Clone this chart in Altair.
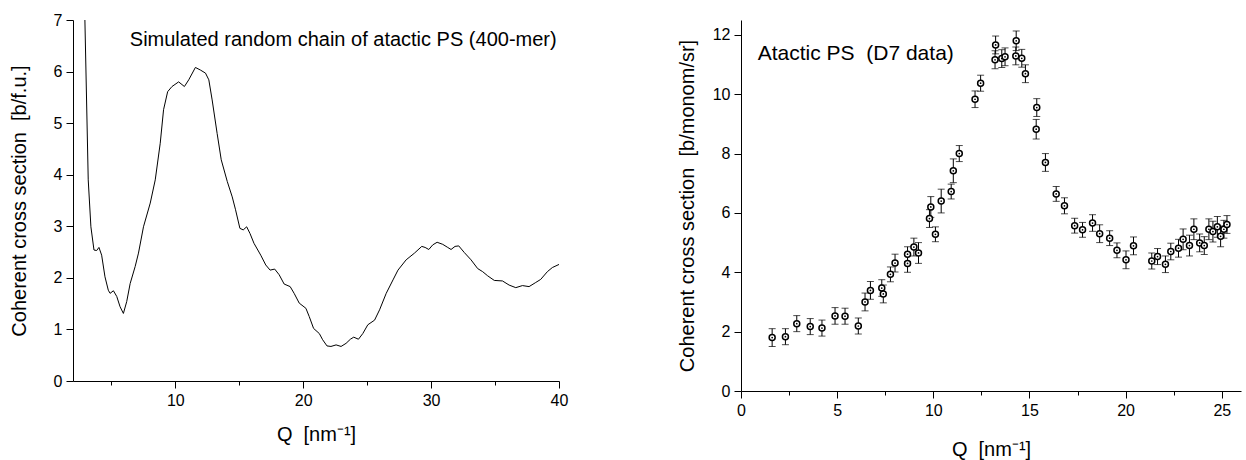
import altair as alt
import pandas as pd

FONT = "Liberation Sans"
SP2 = "\u00a0 "  # double space that survives SVG whitespace collapsing

# ---------------- data: simulated random chain (left panel) ----------------
sim_q = [2.93, 3.19, 3.40, 3.64, 3.85, 4.03, 4.24, 4.50, 4.76, 4.90, 5.16, 5.42, 5.68, 5.94,
         6.20, 6.47, 6.86, 7.12, 7.51, 8.04, 8.43, 8.82, 9.08, 9.40, 9.74, 10.26, 10.71, 11.05,
         11.57, 11.96, 12.36, 12.62, 12.88, 13.27, 13.59, 14.06, 14.45, 14.71, 15.05, 15.31,
         15.58, 15.84, 16.15, 16.68, 17.07, 17.41, 17.77, 18.12, 18.51, 18.98, 19.29, 19.69,
         20.21, 20.47, 20.81, 21.26, 21.52, 21.86, 22.17, 22.57, 22.96, 23.35, 23.69, 23.95,
         24.32, 24.66, 25.05, 25.58, 25.97, 26.49, 27.02, 27.41, 28.05, 28.70, 29.27, 29.53,
         29.82, 30.13, 30.47, 30.91, 31.30, 31.56, 31.87, 32.16, 32.60, 33.12, 33.64, 34.03,
         34.42, 34.94, 35.58, 36.10, 36.62, 37.14, 37.66, 38.18, 38.57, 39.09, 39.48, 40.00]
sim_s = [7.0, 3.90, 2.99, 2.54, 2.53, 2.59, 2.44, 2.02, 1.76, 1.70, 1.75, 1.64, 1.44, 1.31,
         1.54, 1.89, 2.22, 2.48, 2.99, 3.45, 3.90, 4.61, 5.26, 5.61, 5.71, 5.80, 5.71, 5.84,
         6.08, 6.03, 5.97, 5.84, 5.45, 4.80, 4.29, 3.87, 3.57, 3.32, 2.96, 2.93,
         2.99, 2.86, 2.67, 2.44, 2.25, 2.15, 2.17, 2.06, 1.88, 1.83, 1.70, 1.51,
         1.41, 1.25, 1.02, 0.92, 0.80, 0.68, 0.67, 0.70, 0.67, 0.73, 0.81, 0.85,
         0.81, 0.92, 1.09, 1.18, 1.38, 1.70, 1.96, 2.15, 2.35, 2.48, 2.61, 2.59,
         2.55, 2.64, 2.69, 2.65, 2.59, 2.55, 2.61, 2.62, 2.49, 2.35, 2.18, 2.12,
         2.04, 1.95, 1.94, 1.86, 1.81, 1.85, 1.83, 1.91, 1.97, 2.12, 2.20, 2.26]

# ---------------- data: D7 measurement (right panel) ----------------
exp_q = [1.62, 2.31, 2.90, 3.60, 4.21, 4.89, 5.41, 6.10, 6.45, 6.73, 7.32, 7.40, 7.77, 8.01,
         8.66, 8.66, 8.99, 9.23, 9.80, 9.87, 10.11, 10.41, 10.93, 11.04, 11.35, 12.17, 12.46,
         13.24, 13.21, 13.56, 13.73, 14.31, 14.29, 14.60, 14.79, 15.38, 15.35, 15.83, 16.39,
         16.82, 17.35, 17.76, 18.28, 18.65, 19.17, 19.55, 20.02, 20.41, 21.36, 21.66, 22.07,
         22.35, 22.75, 22.99, 23.32, 23.55, 23.85, 24.09, 24.33, 24.54, 24.77, 24.94, 25.11, 25.27]
exp_s = [1.80, 1.83, 2.27, 2.17, 2.12, 2.53, 2.52, 2.19, 3.00, 3.39, 3.47, 3.27, 3.93, 4.31,
         4.61, 4.30, 4.85, 4.65, 5.81, 6.20, 5.28, 6.40, 6.72, 7.42, 8.00, 9.83, 10.37,
         11.66, 11.16, 11.20, 11.26, 11.80, 11.29, 11.21, 10.69, 9.55, 8.82, 7.70, 6.64,
         6.24, 5.57, 5.43, 5.66, 5.30, 5.15, 4.74, 4.42, 4.89, 4.38, 4.53, 4.27,
         4.70, 4.81, 5.11, 4.90, 5.45, 4.99, 4.90, 5.45, 5.37, 5.53, 5.21, 5.45, 5.61]
exp_err = [0.30, 0.27, 0.27, 0.27, 0.27, 0.28, 0.27, 0.27, 0.30, 0.30, 0.28, 0.30, 0.25, 0.30,
           0.25, 0.30, 0.30, 0.35, 0.30, 0.35, 0.25, 0.40, 0.25, 0.40, 0.27, 0.28, 0.27,
           0.30, 0.30, 0.30, 0.30, 0.33, 0.30, 0.30, 0.30, 0.30, 0.33, 0.30, 0.25,
           0.27, 0.25, 0.25, 0.28, 0.30, 0.25, 0.25, 0.30, 0.30, 0.27, 0.27, 0.28,
           0.28, 0.30, 0.35, 0.35, 0.35, 0.30, 0.30, 0.35, 0.35, 0.35, 0.35, 0.30, 0.30]

# ---------------- tick values (major + minor) ----------------
left_x_ticks = [5, 10, 15, 20, 25, 30, 35, 40]          # labels every 10
left_y_ticks = [0, 0.5, 1, 1.5, 2, 2.5, 3, 3.5, 4, 4.5, 5, 5.5, 6, 6.5, 7]  # labels every 1
right_x_ticks = [0, 2.5, 5, 7.5, 10, 12.5, 15, 17.5, 20, 22.5, 25]        # labels every 5
right_y_ticks = [0, 1, 2, 3, 4, 5, 6, 7, 8, 9, 10, 11, 12]                # labels every 2

left_note = "Simulated random chain of atactic PS (400-mer)"
right_note = "Atactic PS" + SP2 + "(D7 data)"
x_title = "Q" + SP2 + "[nm⁻¹]"
left_y_title = "Coherent cross section" + SP2 + "[b/f.u.]"
right_y_title = "Coherent cross section" + SP2 + "[b/monom/sr]"

sim = pd.DataFrame({"Q": sim_q, "S": sim_s, "i": list(range(len(sim_q)))})
exp = pd.DataFrame({
    "Q": exp_q, "S": exp_s,
    "lo": [s - e for s, e in zip(exp_s, exp_err)],
    "hi": [s + e for s, e in zip(exp_s, exp_err)],
})

LW, LH = 486, 361
RW, RH = 500, 371

axis_style = dict(
    domainColor="black", tickColor="black", labelColor="black", titleColor="black",
    tickWidth=1, domainWidth=1, grid=False,
    labelFont=FONT, titleFont=FONT, labelFontSize=16, titleFontSize=20,
    titleFontWeight="normal", labelPadding=4, labelFlush=False, labelOverlap=False,
)


def axis(values, step, title, title_pad):
    minor = f"abs(datum.value / {step} - round(datum.value / {step})) > 0.001"
    return alt.Axis(
        values=values, title=title, titlePadding=title_pad,
        tickSize={"condition": {"test": minor, "value": 4}, "value": 7},
        labelExpr=f"{minor} ? '' : format(datum.value, 'd')",
        **axis_style,
    )


# ---------------- left panel ----------------
lxs = alt.Scale(domain=[2, 40], nice=False, zero=False)
lys = alt.Scale(domain=[0, 7], nice=False, zero=False)

l_line = alt.Chart(sim).mark_line(color="black", strokeWidth=1).encode(
    x=alt.X("Q:Q", scale=lxs, axis=axis(left_x_ticks, 10, x_title, 16)),
    y=alt.Y("S:Q", scale=lys, axis=axis(left_y_ticks, 1, left_y_title, 24)),
    order="i:Q",
)
l_text = alt.Chart(pd.DataFrame({"t": [left_note]})).mark_text(
    align="left", baseline="middle", font=FONT, fontSize=20, color="black").encode(
    x=alt.datum(6.44), y=alt.datum(6.61), text="t:N")

left = alt.layer(l_line, l_text).properties(width=LW, height=LH)

# ---------------- right panel ----------------
rxs = alt.Scale(domain=[0, 26], nice=False, zero=False)
rys = alt.Scale(domain=[0, 12.5], nice=False, zero=False)

base = alt.Chart(exp)
r_err = base.mark_rule(color="black", strokeWidth=1).encode(
    x=alt.X("Q:Q", scale=rxs, axis=axis(right_x_ticks, 5, x_title, 21)),
    y=alt.Y("lo:Q", scale=rys, axis=axis(right_y_ticks, 2, right_y_title, 15)),
    y2="hi:Q",
)
r_cap_lo = base.mark_tick(color="black", orient="horizontal", size=7, thickness=1).encode(
    x="Q:Q", y="lo:Q")
r_cap_hi = base.mark_tick(color="black", orient="horizontal", size=7, thickness=1).encode(
    x="Q:Q", y="hi:Q")
r_pts = base.mark_circle(fill="white", stroke="black", strokeWidth=1.5, size=36, opacity=1).encode(
    x="Q:Q", y="S:Q")
r_dot = base.mark_circle(color="black", size=3, opacity=1).encode(
    x="Q:Q", y="S:Q")
r_text = alt.Chart(pd.DataFrame({"t": [right_note]})).mark_text(
    align="left", baseline="middle", font=FONT, fontSize=21, color="black").encode(
    x=alt.datum(0.87), y=alt.datum(11.35), text="t:N")

right = alt.layer(r_err, r_cap_lo, r_cap_hi, r_pts, r_dot, r_text).properties(
    width=RW, height=RH)

chart = alt.hconcat(left, right, spacing=182, bounds="flush").properties(
    padding={"left": 9, "top": 12, "right": 5, "bottom": 5},
    background="white",
).configure_view(stroke=None)

chart.save("out.html", embed_options={"renderer": "svg", "actions": False})
